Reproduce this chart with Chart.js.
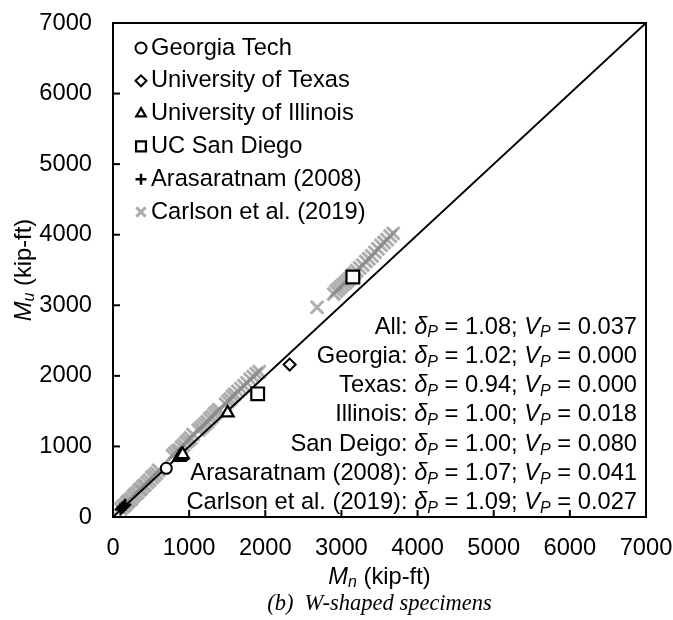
<!DOCTYPE html>
<html><head><meta charset="utf-8">
<script src="https://cdn.jsdelivr.net/npm/chart.js@4/dist/chart.umd.min.js"></script>
<style>html,body{margin:0;padding:0;background:#fff}#wrap{width:673px;height:620px;position:relative}</style>
</head><body><div id="wrap"><canvas id="c" width="673" height="620"></canvas></div>
<script>
// ---- data (Mn, Mu in kip-ft) ----
const seriesNames = ["Georgia Tech","University of Texas","University of Illinois","UC San Diego","Arasaratnam (2008)","Carlson et al. (2019)"];
const georgiaTech = [[700,690]];
const univTexas = [[2320,2160]];
const univIllinois = [[870,845],[885,860],[900,872],[915,885],[1505,1475]];
const ucSanDiego = [[1900,1745],[3150,3400]];
const arasaratnam = [[100,105],[120,130],[140,150],[160,172]];
const carlson = [
 [100,115],[130,145],[160,170],[185,205],[210,230],[240,255],[265,290],[290,320],[320,345],[345,380],
 [370,400],[395,435],[420,455],[450,490],[480,520],[510,560],[540,590],[570,620],[600,660],
 [780,870],[810,900],[840,930],[870,950],[900,990],[930,1020],[960,1060],[990,1090],[1020,1120],[1050,1170],
 [1120,1230],[1150,1260],[1180,1290],[1210,1320],[1240,1350],[1270,1390],[1300,1420],[1330,1460],[1360,1490],[1390,1520],
 [1480,1600],[1510,1640],[1540,1670],[1570,1710],[1600,1740],[1640,1780],[1680,1820],[1720,1860],[1760,1900],[1800,1950],[1840,1990],[1880,2030],[1920,2060],
 [2680,2970],
 [2900,3160],[2930,3200],[2960,3230],[2990,3260],[3020,3290],[3050,3320],[3080,3350],[3110,3380],[3140,3420],[3170,3450],
 [3200,3490],[3240,3530],[3280,3570],[3320,3620],[3360,3660],[3400,3700],[3440,3750],[3480,3800],[3520,3850],[3560,3890],[3600,3930],[3640,3980],[3680,4020]
];
const equalityLine = [[0,0],[7000,7000]];
const axisMin = 0, axisMax = 7000, axisStep = 1000;
const statLabels = ["All","Georgia","Texas","Illinois","San Deigo","Arasaratnam (2008)","Carlson et al. (2019)"];
const statDelta = ["1.08","1.02","0.94","1.00","1.00","1.07","1.09"];
const statV = ["0.037","0.000","0.000","0.018","0.080","0.041","0.027"];

const FONT = '"Liberation Sans", Arial, sans-serif';
const FS = 23.7;
const GRAY = 'rgba(140,140,140,0.7)';
const toXY = a => a.map(p => ({x:p[0], y:p[1]}));

const styles = [
  {pointStyle:'circle', radius:5.5, color:'#000', fill:'#fff', bw:2},
  {pointStyle:'rectRot', radius:6, color:'#000', fill:'#fff', bw:2},
  {pointStyle:'triangle', radius:7, color:'#000', fill:'#fff', bw:2.2},
  {pointStyle:'rect', radius:9, color:'#000', fill:'#fff', bw:2.2},
  {pointStyle:'cross', radius:6, color:'#000', fill:'#000', bw:2.5},
  {pointStyle:'crossRot', radius:9, color:GRAY, fill:GRAY, bw:3}
];
const allData = [georgiaTech, univTexas, univIllinois, ucSanDiego, arasaratnam, carlson];
const orders = [0,0,0,0,1,10];

const datasets = allData.map((d,i) => ({
  type:'scatter', label: seriesNames[i], data: toXY(d), order: orders[i],
  pointStyle: styles[i].pointStyle, pointRadius: styles[i].radius, pointHoverRadius: styles[i].radius,
  borderColor: styles[i].color, backgroundColor: styles[i].fill, pointBorderWidth: styles[i].bw, borderWidth: styles[i].bw
}));
datasets.push({type:'line', label:'1:1', data: toXY(equalityLine), order:5, borderColor:'#000', borderWidth:2, pointRadius:0, fill:false});

function drawRich(ctx, segs, x, y, align, size) {
  const sub = Math.round(size*0.68);
  let w = 0;
  const fonts = segs.map(s => {
    const f = (s.i ? 'italic ' : '') + (s.s ? sub : size) + 'px ' + FONT;
    ctx.font = f; const ww = ctx.measureText(s.t).width; w += ww; return {f, ww};
  });
  let cx = align === 'right' ? x - w : (align === 'center' ? x - w/2 : x);
  ctx.textAlign = 'left'; ctx.textBaseline = 'middle';
  segs.forEach((s,k) => {
    ctx.font = fonts[k].f;
    ctx.fillText(s.t, cx, s.s ? y + 6 : y);
    cx += fonts[k].ww;
  });
}

const decor = {
  id:'decor',
  afterDraw(chart) {
    const ctx = chart.ctx, a = chart.chartArea;
    const xs = chart.scales.x, ys = chart.scales.y;
    ctx.save();
    ctx.strokeStyle = '#000'; ctx.lineWidth = 2;
    ctx.beginPath();
    ctx.moveTo(a.left, a.top); ctx.lineTo(a.right, a.top); ctx.lineTo(a.right, a.bottom);
    ctx.stroke();
    for (let v = axisMin + axisStep; v < axisMax; v += axisStep) {
      const px = xs.getPixelForValue(v), py = ys.getPixelForValue(v);
      ctx.beginPath(); ctx.moveTo(px, a.bottom); ctx.lineTo(px, a.bottom - 7); ctx.stroke();
      ctx.beginPath(); ctx.moveTo(a.left, py); ctx.lineTo(a.left + 7, py); ctx.stroke();
    }
    // legend
    const ly0 = 48, ldy = 32.8, lmx = 141, ltx = 151;
    seriesNames.forEach((n,i) => {
      const st = styles[i];
      const y = ly0 + i*ldy;
      ctx.save();
      ctx.strokeStyle = st.color; ctx.fillStyle = st.fill; ctx.lineWidth = st.bw;
      const r = i===3 ? 7 : (i===5 ? 6.5 : Math.min(st.radius, 5.5));
      Chart.helpers.drawPoint(ctx, {pointStyle: st.pointStyle, radius: r, borderWidth: st.bw}, lmx, y);
      ctx.restore();
      ctx.fillStyle = '#000'; ctx.font = FS + 'px ' + FONT; ctx.textAlign='left'; ctx.textBaseline='middle';
      ctx.fillText(n, ltx, y);
    });
    // statistics
    ctx.fillStyle = '#000';
    statLabels.forEach((lab,i) => {
      drawRich(ctx, [
        {t: lab + ': '}, {t:'δ', i:1}, {t:'P', i:1, s:1}, {t:' = ' + statDelta[i] + '; '},
        {t:'V', i:1}, {t:'P', i:1, s:1}, {t:' = ' + statV[i]}
      ], 637, 327 + i*29.3, 'right', FS);
    });
    // axis titles
    drawRich(ctx, [{t:'M', i:1}, {t:'n', i:1, s:1}, {t:' (kip-ft)'}], (a.left + a.right)/2, 577, 'center', FS);
    ctx.save();
    ctx.translate(24, (a.top + a.bottom)/2); ctx.rotate(-Math.PI/2);
    drawRich(ctx, [{t:'M', i:1}, {t:'u', i:1, s:1}, {t:' (kip-ft)'}], 0, 0, 'center', FS);
    ctx.restore();
    // caption
    ctx.font = 'italic 22.5px "Liberation Serif", "Times New Roman", serif';
    ctx.textAlign = 'center'; ctx.textBaseline = 'middle';
    ctx.fillText('(b)  W-shaped specimens', (a.left + a.right)/2, 604);
    ctx.restore();
  }
};

const plain = v => String(v);

new Chart(document.getElementById('c'), {
  data: { datasets },
  options: {
    responsive:false, animation:false, devicePixelRatio:1,
    layout:{padding:{left:0, top:23, right:27, bottom:0}},
    plugins:{legend:{display:false}, tooltip:{enabled:false}},
    scales:{
      x:{type:'linear', min:axisMin, max:axisMax,
         ticks:{stepSize:axisStep, color:'#000', font:{family:FONT, size:FS}, padding:17, maxRotation:0, callback: plain},
         grid:{display:false, drawTicks:false}, border:{display:true, color:'#000', width:2},
         afterFit(s){ s.height = 103; s.paddingLeft = 0; s.paddingRight = 0; }},
      y:{type:'linear', min:axisMin, max:axisMax,
         ticks:{stepSize:axisStep, color:'#000', font:{family:FONT, size:FS}, padding:21, callback: plain},
         grid:{display:false, drawTicks:false}, border:{display:true, color:'#000', width:2},
         afterFit(s){ s.width = 113; s.paddingTop = 0; s.paddingBottom = 0; }}
    }
  },
  plugins:[decor]
});
</script></body></html>
